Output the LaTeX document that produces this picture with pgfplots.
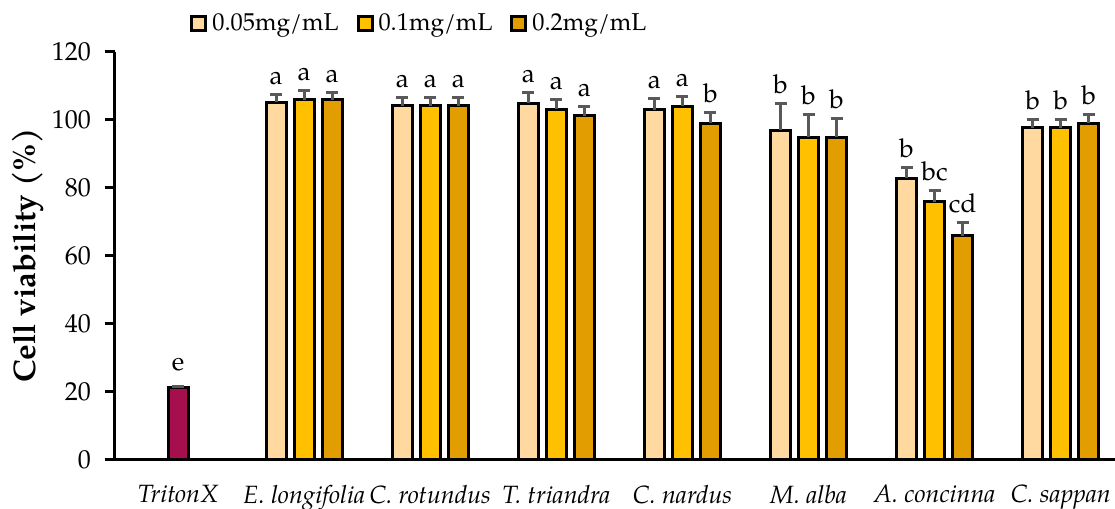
\documentclass[border=0pt]{standalone}
\usepackage{fontspec}
\setmainfont{TeX Gyre Pagella}
\usepackage{pgfplots}
\usepackage{pgfplotstable}
\pgfplotsset{compat=1.18}
\definecolor{cA}{HTML}{FFD9A0}
\definecolor{cB}{HTML}{FFC000}
\definecolor{cC}{HTML}{E29E00}
\definecolor{cT}{HTML}{A50F4E}
\definecolor{eg}{HTML}{595959}

\pgfplotstableread{
x y e
0 21.1 0.5
}\tritontab
\pgfplotstableread{
x y e
0.778 105.1 2.3
1.778 104.1 2.3
2.778 104.9 3.1
3.778 102.9 3.2
4.778 96.9 7.8
5.778 82.8 3.2
6.778 97.7 2.3
}\tabA
\pgfplotstableread{
x y e
1 105.9 2.7
2 104.1 2.3
3 103.1 2.8
4 103.9 2.8
5 94.9 6.6
6 75.8 3.3
7 97.7 2.3
}\tabB
\pgfplotstableread{
x y e
1.222 105.9 2.1
2.222 104.1 2.3
3.222 101.2 2.7
4.222 99.0 3.2
5.222 94.9 5.4
6.222 65.9 3.9
7.222 99.0 2.5
}\tabC

\pgfplotsset{
  sqleg/.style={legend image code/.code={\draw[##1,line width=1.5pt] (0pt,-3.5pt) rectangle (7pt,3.5pt);}},
}

\begin{document}
\begin{tikzpicture}
\begin{axis}[
  scale only axis, width=500pt, height=204pt,
  xmin=-0.5, xmax=7.43, ymin=0, ymax=120,
  axis x line*=bottom, axis y line*=left,
  axis line style={line width=1.5pt,-},
  ytick={0,20,...,120},
  tick align=outside, major tick length=5pt,
  ytick style={line width=1.5pt, black},
  xtick={0,...,7},
  xticklabels={TritonX, E. longifolia, C. rotundus, T. triandra, C. nardus, M. alba, A. concinna, C. sappan},
  xtick style={draw=none},
  xticklabel style={font=\fontsize{12.5}{14}\selectfont\itshape, yshift=-4pt},
  yticklabel style={font=\fontsize{13}{15}\selectfont, xshift=-3.5pt},
  /pgf/number format/assume math mode=true,
  ylabel={\textbf{Cell viability (\%)}},
  every axis y label/.style={at={(axis description cs:-0.087,0.5)}, rotate=90, anchor=center, font=\fontsize{15.6}{18}\selectfont},
  ybar, bar width=10pt, bar shift=0pt,
  error bars/y dir=plus, error bars/y explicit,
  error bars/error bar style={line width=1.5pt, color=eg},
  error bars/error mark options={line width=1.5pt, color=eg, mark size=3pt, rotate=90},
  legend columns=3,
  legend style={draw=none, fill=none, inner sep=0pt, font=\fontsize{12.2}{14}\selectfont,
    nodes={inner sep=0pt},
    at={(axis description cs:0.075,1)}, anchor=west, yshift=13.85pt,
    /tikz/every odd column/.style={column sep=2.5pt},
    /tikz/every even column/.style={column sep=9pt}},
]
\addplot[fill=cT, draw=black, line width=1.5pt, forget plot] table[x=x,y=y,y error=e]{\tritontab};
\addplot[fill=cA, draw=black, line width=1.5pt, sqleg] table[x=x,y=y,y error=e]{\tabA};
\addlegendentry{0.05mg/mL}
\addplot[fill=cB, draw=black, line width=1.5pt, sqleg] table[x=x,y=y,y error=e]{\tabB};
\addlegendentry{0.1mg/mL}
\addplot[fill=cC, draw=black, line width=1.5pt, sqleg] table[x=x,y=y,y error=e]{\tabC};
\addlegendentry{0.2mg/mL}

\tikzset{lt/.style={anchor=base, inner sep=0pt, yshift=5pt, font=\fontsize{13}{15}\selectfont}}
\node[lt, yshift=3pt] at (axis cs:0,21.6) {e};
% series A
\node[lt] at (axis cs:0.778,107.4) {a};
\node[lt] at (axis cs:1.778,106.4) {a};
\node[lt] at (axis cs:2.778,108.0) {a};
\node[lt] at (axis cs:3.778,106.1) {a};
\node[lt] at (axis cs:4.778,104.7) {b};
\node[lt] at (axis cs:5.778,86.0) {b};
\node[lt] at (axis cs:6.778,100.0) {b};
% series B
\node[lt] at (axis cs:1,108.6) {a};
\node[lt] at (axis cs:2,106.4) {a};
\node[lt] at (axis cs:3,105.9) {a};
\node[lt] at (axis cs:4,106.7) {a};
\node[lt] at (axis cs:5,101.5) {b};
\node[lt] at (axis cs:6,79.1) {bc};
\node[lt] at (axis cs:7,100.0) {b};
% series C
\node[lt] at (axis cs:1.222,108.0) {a};
\node[lt] at (axis cs:2.222,106.4) {a};
\node[lt] at (axis cs:3.222,103.9) {a};
\node[lt] at (axis cs:4.222,102.2) {b};
\node[lt] at (axis cs:5.222,100.3) {b};
\node[lt] at (axis cs:6.222,69.8) {cd};
\node[lt] at (axis cs:7.222,101.5) {b};
\end{axis}
\pgfresetboundingbox
\path[use as bounding box] ([shift={(-57.5pt,-24.5pt)}]current axis.south west) rectangle ([shift={(0pt,25.85pt)}]current axis.north east);
\end{tikzpicture}
\end{document}
